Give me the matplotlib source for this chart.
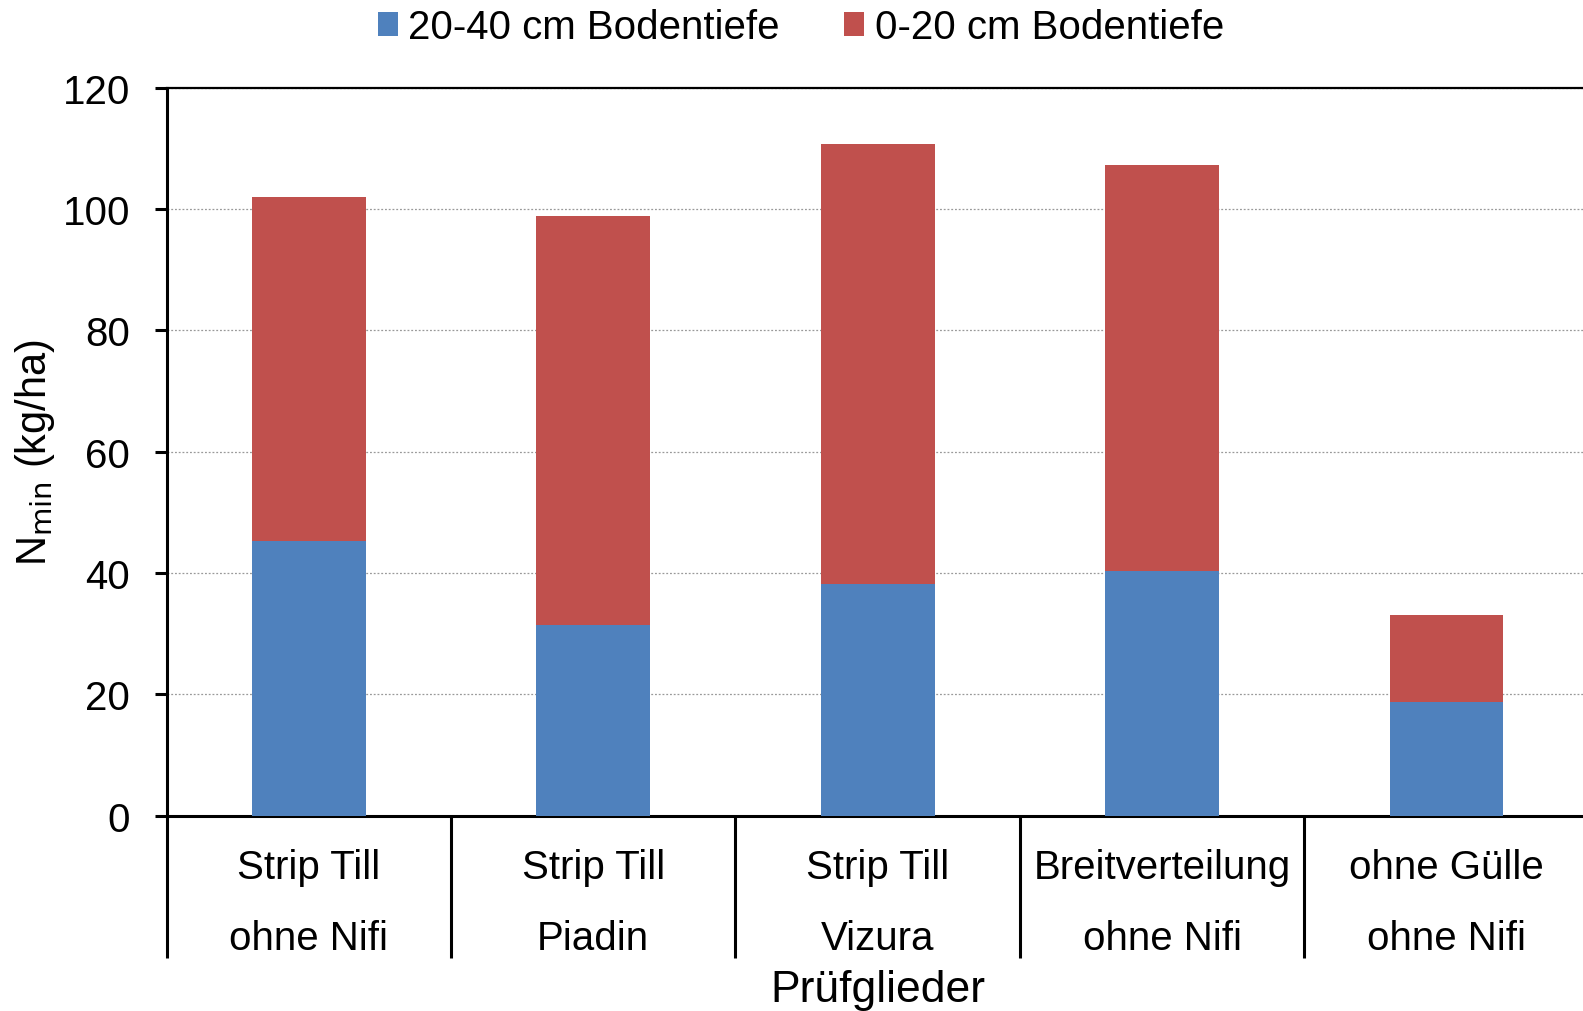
import numpy as np
import matplotlib.pyplot as plt

plt.rcParams['font.family'] = ['Liberation Sans', 'DejaVu Sans']

# Nmin je Prüfglied, aufgeteilt nach Bodentiefe (kg/ha)
pruefglieder = ['Strip Till\nohne Nifi', 'Strip Till\nPiadin', 'Strip Till\nVizura',
                'Breitverteilung\nohne Nifi', 'ohne Gülle\nohne Nifi']
tief_20_40 = [45.2, 31.5, 38.2, 40.3, 18.8]
tief_0_20 = [56.8, 67.3, 72.6, 67.0, 14.3]

farbe_blau = '#4F81BD'
farbe_rot = '#C0504D'

fig = plt.figure(figsize=(15.83, 10.12), dpi=100)
ax = fig.add_axes([0.1053, 0.193, 0.8983, 0.7193])

x = np.arange(len(pruefglieder))
ax.bar(x, tief_20_40, width=0.4, color=farbe_blau, label='20-40 cm Bodentiefe', zorder=3)
ax.bar(x, tief_0_20, width=0.4, bottom=tief_20_40, color=farbe_rot,
       label='0-20 cm Bodentiefe', zorder=3)

ax.set_xlim(-0.5, len(pruefglieder) - 0.5)
ax.set_ylim(0, 120)
ax.set_yticks(np.arange(0, 121, 20))
ax.yaxis.grid(True, linestyle=(0, (1.5, 1.5)), color='#999999', linewidth=0.9, zorder=0)

# Kategorien: Beschriftung an den Mitten, lange Trennstriche an den Grenzen
ax.set_xticks(x)
ax.set_xticklabels(pruefglieder, fontsize=29, linespacing=2.1)
ax.set_xticks(np.arange(-0.5, len(pruefglieder)), minor=True)
ax.tick_params(axis='x', which='major', length=0, pad=23)
ax.tick_params(axis='x', which='minor', length=102, width=2.2, direction='out')
ax.tick_params(axis='y', length=8.5, width=2.2, labelsize=29, pad=18)

ax.spines['right'].set_visible(False)
ax.spines['left'].set_linewidth(2.2)
ax.spines['bottom'].set_linewidth(2.2)
ax.spines['top'].set_linewidth(1.6)

ax.set_ylabel(r'N$_{\mathrm{min}}$ (kg/ha)', fontsize=30, labelpad=4)
ax.set_xlabel('Prüfglieder', fontsize=32)
ax.xaxis.set_label_coords(0.5, -0.21)

fig.legend(loc='upper center', bbox_to_anchor=(0.506, 1.027), ncol=2, frameon=False,
           fontsize=29, handlelength=0.5, handleheight=0.55, handletextpad=0.25,
           columnspacing=1.6)

fig.savefig('out.png', dpi=100)
